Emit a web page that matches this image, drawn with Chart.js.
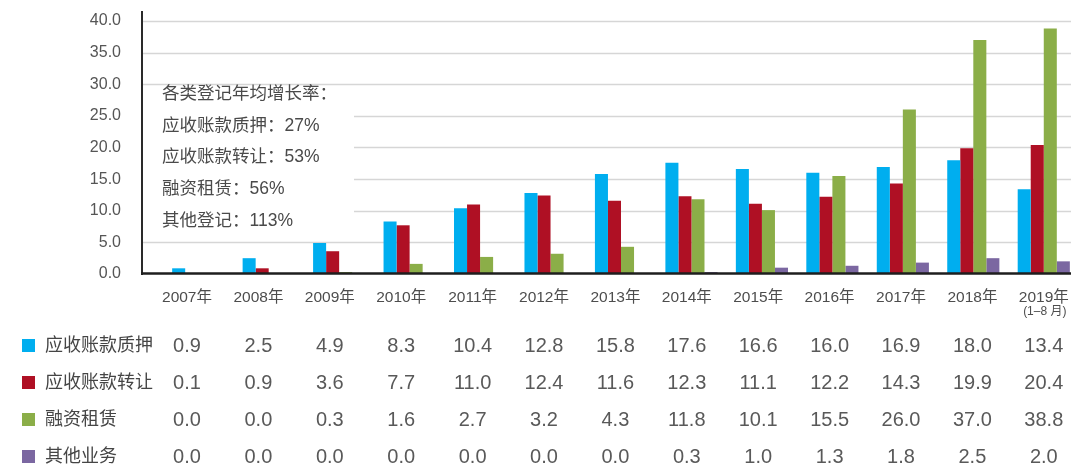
<!DOCTYPE html>
<html>
<head>
<meta charset="utf-8">
<script src="https://cdn.jsdelivr.net/npm/chart.js@4/dist/chart.umd.min.js"></script>
<style>
  html, body { margin: 0; padding: 0; background: #ffffff; overflow: hidden; }
  #wrap { position: relative; width: 1071px; height: 468px; overflow: hidden; }
  #c { position: absolute; left: 0; top: 0; }
</style>
</head>
<body>
<div id="wrap"><canvas id="c" width="1079" height="468"></canvas></div>
<script>
// ---- data ----
const years = ['2007年','2008年','2009年','2010年','2011年','2012年','2013年','2014年','2015年','2016年','2017年','2018年','2019年'];
const yearNotes = ['','','','','','','','','','','','','(1–8 月)'];
const seriesNames = ['应收账款质押','应收账款转让','融资租赁','其他业务'];
const pledge   = [0.9, 2.5, 4.9, 8.3, 10.4, 12.8, 15.8, 17.6, 16.6, 16.0, 16.9, 18.0, 13.4];
const transfer = [0.1, 0.9, 3.6, 7.7, 11.0, 12.4, 11.6, 12.3, 11.1, 12.2, 14.3, 19.9, 20.4];
const leasing  = [0.0, 0.0, 0.3, 1.6, 2.7, 3.2, 4.3, 11.8, 10.1, 15.5, 26.0, 37.0, 38.8];
const other    = [0.0, 0.0, 0.0, 0.0, 0.0, 0.0, 0.0, 0.3, 1.0, 1.3, 1.8, 2.5, 2.0];
const growthNotes = ['各类登记年均增长率：','应收账款质押：27%','应收账款转让：53%','融资租赁：56%','其他登记：113%'];
const yTickStep = 5;
const yTickMax = 40;

// ---- style ----
const colors = ['#00AEEF', '#AF1024', '#8BAE48', '#7B67A1'];
const FONT = '"Liberation Sans", "Noto Sans CJK SC", Arial, sans-serif';

const seriesData = [pledge, transfer, leasing, other];

const AXIS_X = 142;          // y-axis line position
const PLOT_TOP = 11;

const decorPlugin = {
  id: 'decor',
  beforeDatasetsDraw(chart) {
    const ctx = chart.ctx;
    const y = chart.scales.y;
    const W = chart.width;
    ctx.save();
    // gridlines
    ctx.strokeStyle = '#d6d6d6';
    ctx.lineWidth = 1.5;
    y.ticks.forEach(t => {
      if (t.value === 0) return;
      const py = Math.round(y.getPixelForValue(t.value)) + 0.5;
      ctx.beginPath();
      ctx.moveTo(AXIS_X, py);
      ctx.lineTo(W, py);
      ctx.stroke();
    });
    // white annotation box
    ctx.fillStyle = '#ffffff';
    ctx.fillRect(AXIS_X + 1, 87, 211, 145);
    // annotation text
    ctx.fillStyle = '#4a4a4a';
    ctx.font = '17.5px ' + FONT;
    ctx.textAlign = 'left';
    ctx.textBaseline = 'middle';
    growthNotes.forEach((s, i) => {
      ctx.fillText(s, 162, 94 + i * 31.8);
    });
    ctx.restore();
  },
  afterDatasetsDraw(chart) {
    const ctx = chart.ctx;
    const y = chart.scales.y;
    const W = chart.width;
    const y0 = y.getPixelForValue(0);
    ctx.save();
    // left axis line
    ctx.strokeStyle = '#2a2a2a';
    ctx.lineWidth = 2;
    ctx.beginPath();
    ctx.moveTo(AXIS_X, PLOT_TOP);
    ctx.lineTo(AXIS_X, y0 + 1);
    ctx.stroke();
    // bottom axis line
    ctx.strokeStyle = '#1e1e1e';
    ctx.lineWidth = 2.5;
    ctx.beginPath();
    ctx.moveTo(AXIS_X - 1, y0 - 0.5);
    ctx.lineTo(W, y0 - 0.5);
    ctx.stroke();
    ctx.restore();
  },
  afterDraw(chart) {
    const ctx = chart.ctx;
    ctx.save();
    const colX = i => 187 + 71.4 * i;
    // header row (years)
    ctx.fillStyle = '#4d4d4d';
    ctx.textAlign = 'center';
    ctx.textBaseline = 'middle';
    ctx.font = '15.5px ' + FONT;
    years.forEach((yr, i) => {
      ctx.fillText(yr, colX(i), 298);
    });
    ctx.font = '12px ' + FONT;
    yearNotes.forEach((n, i) => {
      if (n) ctx.fillText(n, colX(i) + 1, 312);
    });
    // data rows
    const rowY = [346, 383, 420, 457];
    seriesNames.forEach((name, r) => {
      const yy = rowY[r];
      ctx.fillStyle = colors[r];
      ctx.fillRect(22, yy - 7, 13, 13);
      ctx.fillStyle = '#454545';
      ctx.textAlign = 'left';
      ctx.font = '18px ' + FONT;
      ctx.fillText(name, 45, yy);
      ctx.fillStyle = '#595959';
      ctx.textAlign = 'center';
      ctx.font = '20px ' + FONT;
      seriesData[r].forEach((v, i) => {
        ctx.fillText(v.toFixed(1), colX(i), yy);
      });
    });
    ctx.restore();
  }
};

new Chart(document.getElementById('c'), {
  type: 'bar',
  data: {
    labels: years,
    datasets: seriesNames.map((name, i) => ({
      label: name,
      data: seriesData[i],
      backgroundColor: colors[i],
      borderWidth: 0,
      barPercentage: 1.0,
      categoryPercentage: 0.74
    }))
  },
  options: {
    responsive: false,
    animation: false,
    devicePixelRatio: 1,
    layout: { padding: { top: PLOT_TOP, bottom: 194, left: 0, right: 0 } },
    plugins: {
      legend: { display: false },
      tooltip: { enabled: false }
    },
    scales: {
      x: {
        display: false,
        offset: true,
        grid: { display: false }
      },
      y: {
        min: 0,
        max: 41.58,
        afterFit(scale) {
          scale.width = 163;
          scale.paddingTop = 0;
          scale.paddingBottom = 0;
        },
        afterBuildTicks(scale) {
          const t = [];
          for (let v = 0; v <= yTickMax; v += yTickStep) t.push({ value: v });
          scale.ticks = t;
        },
        grid: { display: false, drawTicks: false },
        border: { display: false },
        ticks: {
          padding: 42,
          color: '#555555',
          font: { family: FONT, size: 16 },
          callback: v => Number(v).toFixed(1)
        }
      }
    }
  },
  plugins: [decorPlugin]
});
</script>
</body>
</html>
